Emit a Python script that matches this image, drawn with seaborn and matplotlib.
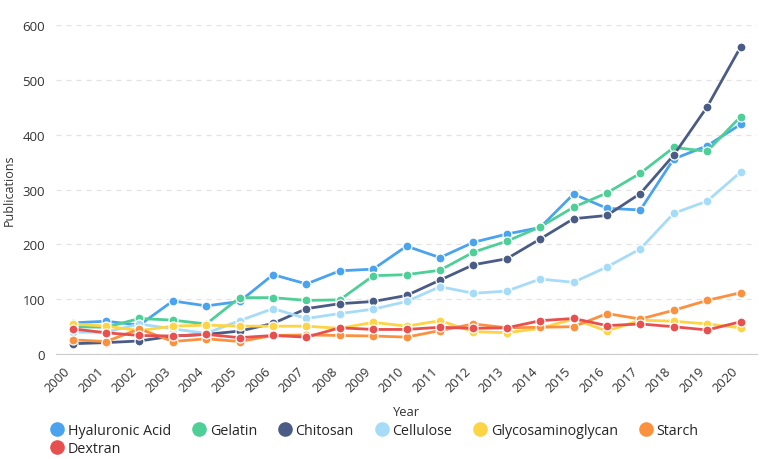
import pandas as pd
import matplotlib
matplotlib.use('Agg')
import matplotlib.pyplot as plt
import seaborn as sns
from matplotlib.lines import Line2D

# dados
years = list(range(2000, 2021))
hyaluronic = [57, 60, 53, 97, 88, 96, 145, 128, 152, 155, 197, 176, 204, 219, 231, 292, 266, 263, 356, 380, 419]
gelatin = [50, 49, 65, 62, 55, 103, 103, 98, 99, 143, 145, 153, 186, 206, 232, 268, 294, 330, 377, 370, 433]
chitosan = [19, 21, 24, 33, 36, 42, 56, 83, 92, 96, 107, 135, 163, 174, 210, 247, 253, 293, 363, 451, 560]
cellulose = [40, 40, 55, 46, 38, 61, 83, 65, 74, 82, 96, 123, 111, 115, 137, 131, 159, 192, 257, 279, 332]
glyco = [55, 51, 43, 51, 53, 51, 51, 51, 47, 58, 51, 61, 41, 39, 47, 64, 42, 62, 60, 55, 48]
starch = [26, 23, 46, 23, 28, 23, 34, 35, 34, 33, 31, 43, 55, 48, 49, 50, 74, 64, 80, 98, 112]
dextran = [46, 39, 34, 33, 36, 30, 34, 31, 48, 45, 45, 49, 47, 48, 61, 65, 52, 55, 50, 44, 59]

series = {
    'Hyaluronic Acid': hyaluronic,
    'Gelatin': gelatin,
    'Chitosan': chitosan,
    'Cellulose': cellulose,
    'Glycosaminoglycan': glyco,
    'Starch': starch,
    'Dextran': dextran,
}
cores = {
    'Hyaluronic Acid': '#4aa3ef',
    'Gelatin': '#4ecf97',
    'Chitosan': '#4a5b85',
    'Cellulose': '#a6dcf8',
    'Glycosaminoglycan': '#fcd444',
    'Starch': '#fb913f',
    'Dextran': '#e8504f',
}

df = pd.DataFrame([(nome, y, v) for nome, vals in series.items() for y, v in zip(years, vals)],
                  columns=['Material', 'Year', 'Publications'])

sns.set_style('white')
plt.rcParams['font.family'] = ['Open Sans', 'DejaVu Sans']

fig = plt.figure(figsize=(7.61, 4.6), dpi=100)
ax = fig.add_axes([0.0736, 0.228, 0.9214, 0.715])

sns.lineplot(data=df, x='Year', y='Publications', hue='Material', palette=cores,
             marker='o', markersize=6.5, markeredgecolor='white', markeredgewidth=0.9,
             linewidth=2, ax=ax, legend=False)

ax.set_xlim(1999.5, 2020.5)
ax.set_ylim(0, 600)
ax.set_xticks(years)
ax.set_xticklabels([str(y) for y in years], rotation=45, ha='right',
                   fontsize=9.3, color='#333333')
ax.set_yticks(range(0, 601, 100))
ax.tick_params(axis='y', labelsize=9.5, colors='#333333', length=0, pad=8)
ax.tick_params(axis='x', length=4, color='#cccccc', pad=3)
ax.yaxis.grid(True, linestyle=(0, (4, 4)), color='#e3e3e3', linewidth=0.9)
for s in ['left', 'right', 'top']:
    ax.spines[s].set_visible(False)
ax.spines['bottom'].set_color('#cccccc')
ax.set_xlabel('Year', fontsize=9.3, color='#333333', labelpad=8)
ax.set_ylabel('Publications', fontsize=9, color='#333333', labelpad=5)

# ordem para a legenda ficar com Dextran na segunda linha
ordem = ['Hyaluronic Acid', 'Dextran', 'Gelatin', 'Chitosan', 'Cellulose', 'Glycosaminoglycan', 'Starch']
handles = [Line2D([], [], marker='o', linestyle='', markersize=9.5, color=cores[n]) for n in ordem]
fig.legend(handles, ordem, loc='lower left', bbox_to_anchor=(0.047, -0.022), ncol=6,
           frameon=False, fontsize=10.3, handletextpad=0.15, columnspacing=1.35,
           labelspacing=0.25, handlelength=1.2)

plt.savefig('out.png', dpi=100)
